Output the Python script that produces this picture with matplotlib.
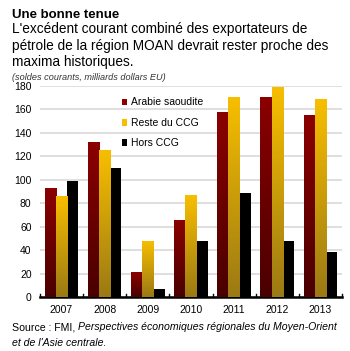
import numpy as np
import matplotlib
matplotlib.use("Agg")
import matplotlib.pyplot as plt
from matplotlib.colors import LinearSegmentedColormap
from matplotlib.transforms import offset_copy

plt.rcParams['font.family'] = ['Liberation Sans', 'DejaVu Sans']

# soldes courants, milliards de dollars EU
years = ['2007', '2008', '2009', '2010', '2011', '2012', '2013']
arabie = [93, 132, 21, 66, 158, 171, 155]
reste_ccg = [86, 125, 48, 87, 171, 179, 169]
hors_ccg = [99, 110, 7, 48, 89, 48, 38]
labels = ['Arabie saoudite', 'Reste du CCG', 'Hors CCG']

fig = plt.figure(figsize=(3.5, 3.51), dpi=100)
ax = fig.add_axes([0.114, 0.154, 0.863, 0.601])

x = np.arange(len(years))
w = 0.26

# dégradés verticaux (bas sombre -> haut vif)
cmaps = [
    LinearSegmentedColormap.from_list('ar', ['#4a0000', '#8b0000']),
    LinearSegmentedColormap.from_list('rc', ['#9c7a14', '#f7be00']),
    None,
]
series = [arabie, reste_ccg, hors_ccg]
tops = ['#8b0000', '#f7be00', '#000000']
grad = np.linspace(0, 1, 64).reshape(-1, 1)

for i, vals in enumerate(series):
    bars = ax.bar(x + (i - 1) * w, vals, w, color=tops[i], zorder=3,
                  label=labels[i], edgecolor='none')
    if cmaps[i] is None:
        continue
    for b in bars:
        x0, y0 = b.get_x(), b.get_y()
        im = ax.imshow(grad, cmap=cmaps[i], origin='lower', aspect='auto',
                       extent=[x0, x0 + b.get_width(), y0, y0 + b.get_height()],
                       zorder=3.5, interpolation='bilinear')
        im.set_clip_path(b)

ax.set_xlim(-0.5, len(years) - 0.5)
ax.set_ylim(0, 180)
ax.set_yticks(range(0, 181, 20))
ax.set_xticks(x)
ax.set_xticklabels(years)
ax.yaxis.grid(True, color='#d9d9d9', linewidth=1.2, zorder=0)
ax.set_axisbelow(True)
for s in ['top', 'right', 'left']:
    ax.spines[s].set_visible(False)
ax.spines['bottom'].set_linewidth(1.8)
ax.tick_params(axis='y', length=0, labelsize=7.5, pad=6)
ax.tick_params(axis='x', length=0, labelsize=7.5, pad=6)
# petits repères entre les années
for xb in np.arange(-0.5, len(years)):
    ax.plot([xb, xb], [0, 2.5], color='black', lw=1, zorder=4, clip_on=False)

ax.legend(loc='upper left', bbox_to_anchor=(0.24, 0.99), frameon=False,
          fontsize=7.5, handlelength=0.5, handleheight=0.6, handletextpad=0.35,
          labelspacing=1.0)
ax.set_xlim(-0.5, len(years) - 0.5)

fig.text(0.034, 0.975, 'Une bonne tenue', fontsize=9.5, fontweight='bold', va='top')
fig.text(0.034, 0.937, "L'excédent courant combiné des exportateurs de\n"
         "pétrole de la région MOAN devrait rester proche des\n"
         "maxima historiques.", fontsize=9.8, va='top', linespacing=1.22)
fig.text(0.034, 0.792, '(soldes courants, milliards dollars EU)', fontsize=6.6,
         style='italic', color='#333333', va='top')

# source : partie droite en italique, placée après la partie droite
src = fig.text(0.034, 0.082, 'Source : FMI, ', fontsize=7.6, va='top')
fig.canvas.draw()
bb = src.get_window_extent()
x1 = fig.transFigure.inverted().transform((bb.x1, bb.y1))[0]
fig.text(x1, 0.082, 'Perspectives économiques régionales du Moyen-Orient',
         fontsize=7.6, style='italic', va='top')
fig.text(0.034, 0.038, "et de l'Asie centrale.", fontsize=7.6, style='italic',
         va='top')

fig.savefig('out.png', dpi=100)
